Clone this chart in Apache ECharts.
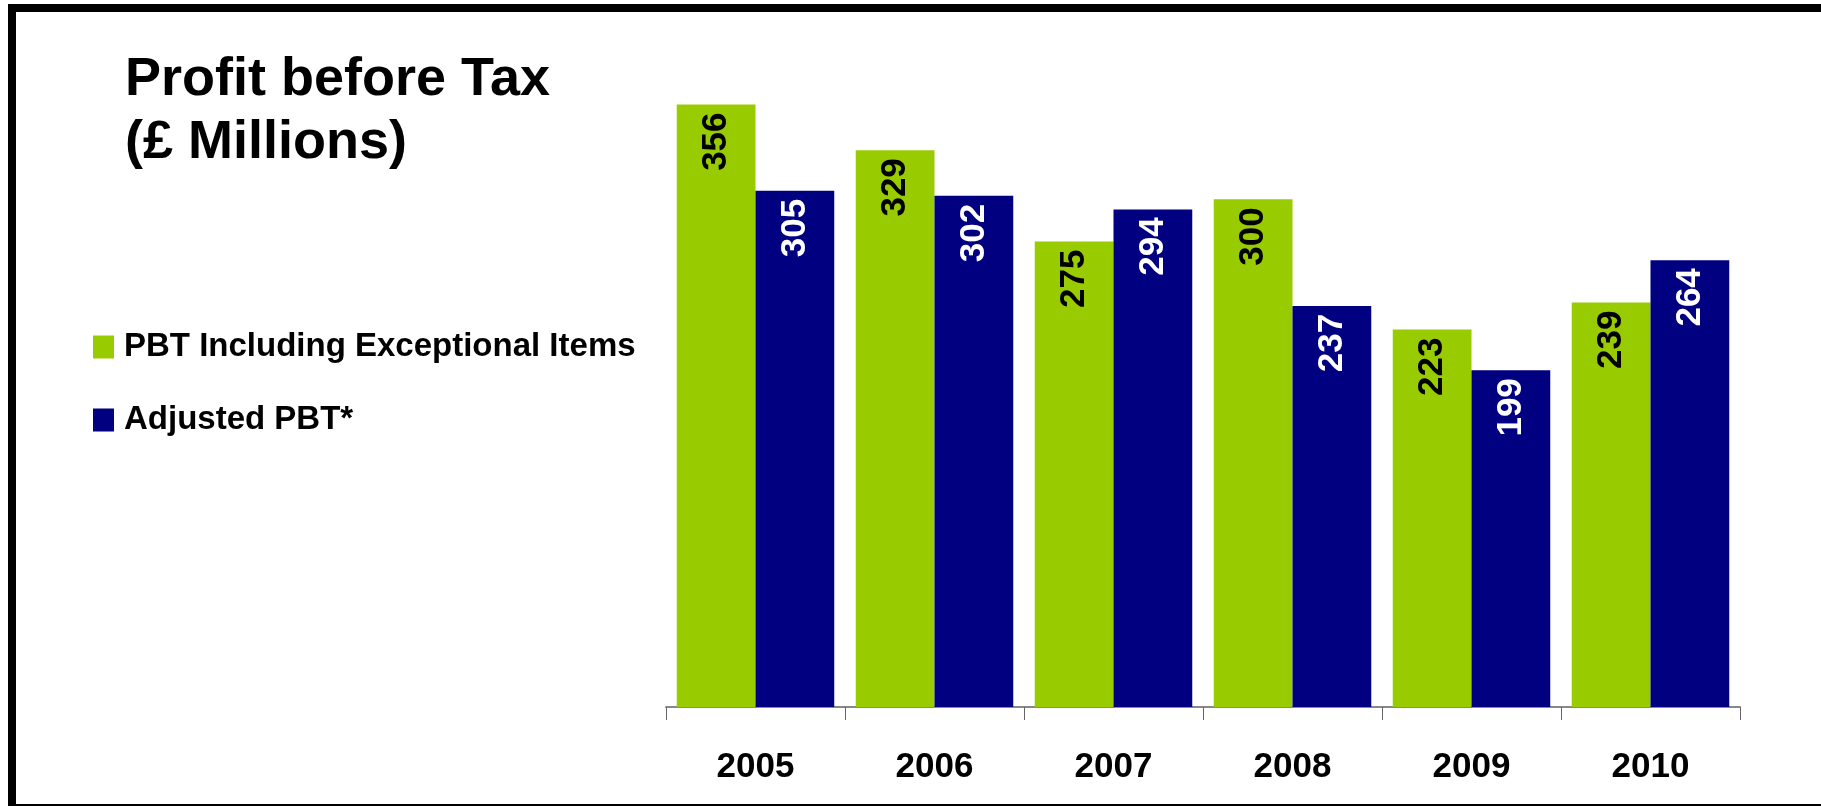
<!DOCTYPE html>
<html>
<head>
<meta charset="utf-8">
<script src="https://cdn.jsdelivr.net/npm/echarts@6/dist/echarts.min.js"></script>
<style>
html,body{margin:0;padding:0;background:#fff;}
#chart{width:1821px;height:806px;}
</style>
</head>
<body>
<div id="chart"></div>
<script>
const years = ['2005','2006','2007','2008','2009','2010'];
const pbtIncl = [356, 329, 275, 300, 223, 239];
const adjusted = [305, 302, 294, 237, 199, 264];
const seriesNames = ['PBT Including Exceptional Items', 'Adjusted PBT*'];
const titleText = 'Profit before Tax\n(£ Millions)';

const FONT = '"Liberation Sans Narrow", "Arial Narrow", "Liberation Sans", Arial, sans-serif';
const chart = echarts.init(document.getElementById('chart'));
chart.setOption({
  animation: false,
  backgroundColor: '#fff',
  title: {
    text: titleText,
    left: 125, top: 49, padding: 0,
    textStyle: { fontFamily: FONT, fontWeight: 'bold', fontSize: 54, lineHeight: 63, color: '#000' }
  },
  legend: {
    orient: 'vertical',
    left: 93, top: 327, padding: 0,
    itemGap: 33,
    itemWidth: 21, itemHeight: 23,
    icon: 'rect',
    data: seriesNames,
    textStyle: { fontFamily: FONT, fontWeight: 'bold', fontSize: 33, lineHeight: 40, color: '#000', padding: [0,0,0,5] }
  },
  graphic: [{
    type: 'rect',
    shape: { x: 12, y: 8, width: 1900, height: 800 },
    style: { fill: 'none', stroke: '#000', lineWidth: 8 },
    silent: true, z: 100
  }],
  grid: { left: 666, right: 81, top: 30, bottom: 99 },
  xAxis: {
    type: 'category',
    data: years,
    axisLine: { lineStyle: { color: '#888', width: 2 } },
    axisTick: { show: true, length: 13, lineStyle: { color: '#666', width: 1 } },
    axisLabel: { fontFamily: FONT, fontWeight: 'bold', fontSize: 35, color: '#000', margin: 43 }
  },
  yAxis: {
    type: 'value', min: 0, max: 400, show: false,
    splitLine: { show: false }
  },
  series: [
    {
      name: seriesNames[0], type: 'bar', data: pbtIncl,
      barGap: '0%', barCategoryGap: '12%',
      itemStyle: { color: '#99CC00' },
      label: {
        show: true, position: 'insideTop', rotate: 90, align: 'right', verticalAlign: 'middle', distance: 8,
        fontFamily: FONT, fontWeight: 'bold', fontSize: 35, color: '#000'
      }
    },
    {
      name: seriesNames[1], type: 'bar', data: adjusted,
      barGap: '0%', barCategoryGap: '12%',
      itemStyle: { color: '#000080' },
      label: {
        show: true, position: 'insideTop', rotate: 90, align: 'right', verticalAlign: 'middle', distance: 8,
        fontFamily: FONT, fontWeight: 'bold', fontSize: 35, color: '#fff'
      }
    }
  ]
});
</script>
</body>
</html>
